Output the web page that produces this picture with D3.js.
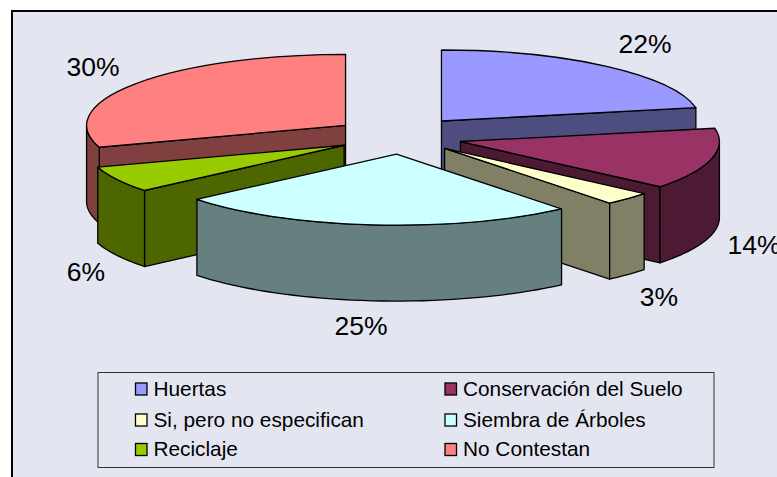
<!DOCTYPE html>
<html><head><meta charset="utf-8">
<script src="https://cdnjs.cloudflare.com/ajax/libs/d3/7.8.5/d3.min.js"></script>
<style>html,body{margin:0;padding:0;background:#fff}svg{display:block}text{font-family:"Liberation Sans",Arial,sans-serif;fill:#000}</style>
</head><body><div id="c"></div>
<script>
const categories = ["Huertas","Conservación del Suelo","Si, pero no especifican","Siembra de Árboles","Reciclaje","No Contestan"];
const values = [22,14,3,25,6,30];
const topColors = ["#9999FF","#993366","#FFFFCC","#CCFFFF","#99CC00","#FF8080"];
const sideColors = ["#4D4D80","#4D1A33","#808066","#668080","#4D6600","#804040"];
const drawOrder = [5,0,4,1,2,3];

const W=777,H=477;
const cx=399.2, cy=135, rx=259, ry=71, depth=76, explode=0.256;
const sliceNudge=[[0,0],[-3,2],[-1.5,0.5],[3.5,1],[3,1.5],[0,1]];
const labelCentres=[[645,44],[754,245],[659,297],[361,326],[86,272],[93,67]];
const legendCols=[135.5,445], legendRows=[389,420,449.5];

const svg=d3.select("#c").append("svg").attr("width",W).attr("height",H);
svg.append("rect").attr("x",12).attr("y",11).attr("width",W).attr("height",H)
  .attr("fill","#E3E6F1").attr("stroke","#000").attr("stroke-width",2);

const arcs=d3.pie().sort(null).value(d=>d)(values);
const sx=d3.scaleLinear().domain([-1,1]).range([-rx,rx]);
const sy=d3.scaleLinear().domain([-1,1]).range([-ry,ry]);
const arcGen=d3.arc().innerRadius(0).outerRadius(1);
const line=d3.line();

drawOrder.forEach(i=>{
  const a=arcs[i], mid=(a.startAngle+a.endAngle)/2;
  const ox=cx+sx(explode*Math.sin(mid))+sliceNudge[i][0], oy=cy-sy(explode*Math.cos(mid))+sliceNudge[i][1];
  const g=svg.append("g").attr("transform",`translate(${ox},${oy})`);
  const rim=t=>[sx(Math.sin(t)),-sy(Math.cos(t))];
  const st={fill:sideColors[i],stroke:"#000","stroke-width":1.3,"stroke-linejoin":"round"};
  const face=(d)=>{const p=g.append("path").attr("d",d);Object.entries(st).forEach(([k,v])=>p.attr(k,v));return p;};
  if(Math.sin(a.startAngle)<-1e-6){const r=rim(a.startAngle);
    face(line([[0,0],r,[r[0],r[1]+depth],[0,depth]])+"Z");}
  if(Math.sin(a.endAngle)>1e-6){const r=rim(a.endAngle);
    face(line([[0,0],r,[r[0],r[1]+depth],[0,depth]])+"Z");}
  const t0=Math.max(a.startAngle,Math.PI/2), t1=Math.min(a.endAngle,Math.PI*1.5);
  if(t1>t0){
    const ts=d3.range(0,41).map(k=>t0+(t1-t0)*k/40);
    const top=ts.map(rim), bot=ts.map(rim).map(p=>[p[0],p[1]+depth]).reverse();
    face(line(top.concat(bot))+"Z");
  }
  g.append("path").attr("d",arcGen(a)).attr("transform",`scale(${rx},${ry})`)
    .attr("fill",topColors[i]).attr("stroke","#000").attr("stroke-width",1.3)
    .attr("vector-effect","non-scaling-stroke").attr("stroke-linejoin","round");
});

values.forEach((v,i)=>{
  svg.append("text").attr("x",labelCentres[i][0]).attr("y",labelCentres[i][1]+9)
    .attr("text-anchor","middle").attr("font-size",26.5).text(v+"%");
});

const lg=svg.append("g");
lg.append("rect").attr("x",98).attr("y",372.5).attr("width",616).attr("height",95)
  .attr("fill","#E3E6F1").attr("stroke","#333").attr("stroke-width",1);
categories.forEach((c,i)=>{
  const x=legendCols[i%2], y=legendRows[Math.floor(i/2)];
  lg.append("rect").attr("x",x).attr("y",y-6).attr("width",11.5).attr("height",12)
    .attr("fill",topColors[i]).attr("stroke","#000").attr("stroke-width",1.3);
  lg.append("text").attr("x",x+18).attr("y",y+6.5).attr("font-size",20.8).text(c);
});
</script></body></html>
